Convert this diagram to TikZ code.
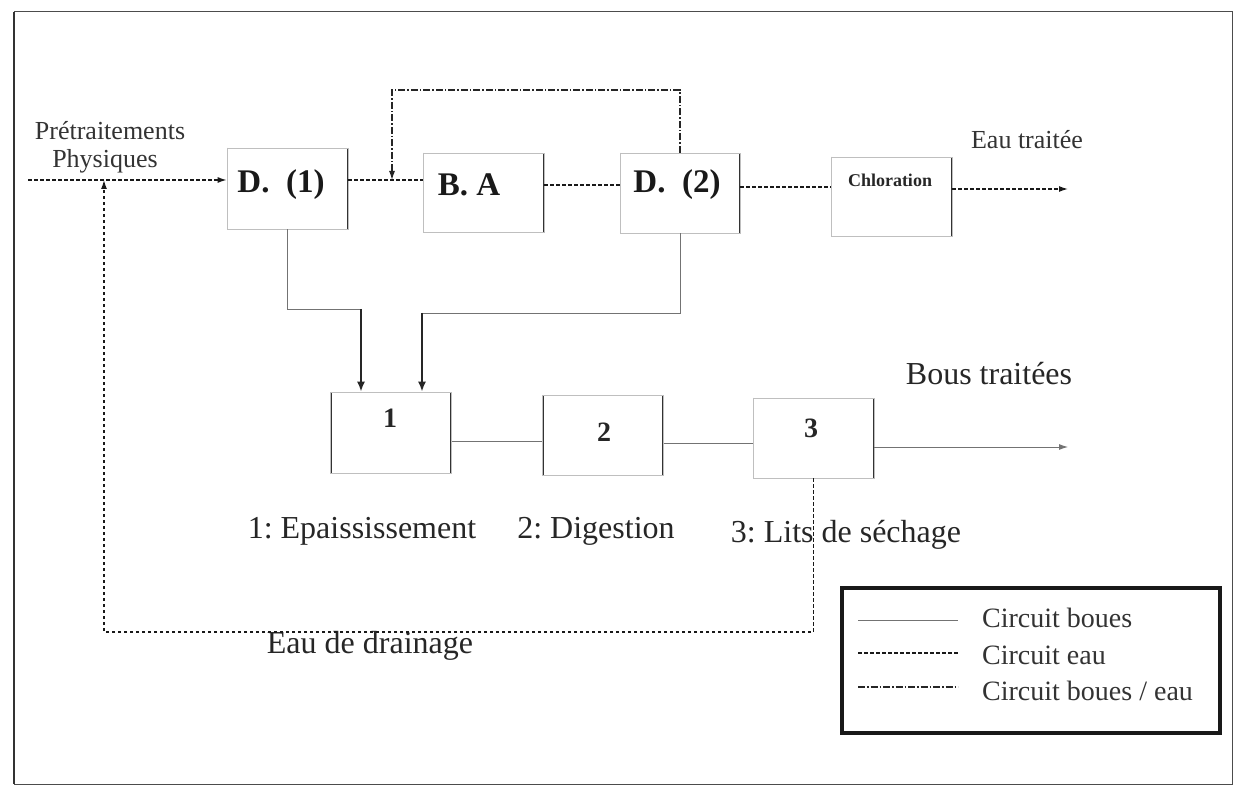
\documentclass[tikz,border=0pt]{standalone}
\usepackage{fontspec}
\setmainfont{Liberation Serif}
\usetikzlibrary{arrows.meta,calc}
\frenchspacing
\tikzset{
  procbox/.style={minimum width=121pt, minimum height=80pt, inner sep=0pt, draw=black!25, line width=0.7pt,
    path picture={\draw[black!80,line width=2.6pt]
      (path picture bounding box.north west) -- (path picture bounding box.south west)
      (path picture bounding box.north east) -- (path picture bounding box.south east);}},
  eau/.style={draw=black!90, line width=1.3pt, dash pattern=on 3.5pt off 2.5pt},
  boue/.style={draw=black!55, line width=0.9pt},
  bouefort/.style={draw=black!85, line width=1.8pt, -{Latex[length=10pt,width=8pt]}},
  mixte/.style={draw=black!85, line width=1.2pt, dash pattern=on 7pt off 2pt on 1.5pt off 2pt},
  tip/.style={-{Latex[length=9pt,width=6pt]}},
  lab/.style={font=\fontsize{32}{36}\selectfont, inner sep=0pt, text=black!85},
  small/.style={font=\fontsize{26}{30}\selectfont, inner sep=0pt, text=black!80},
  boxlab/.style={font=\bfseries\fontsize{33}{36}\selectfont, inner sep=0pt, text=black!90},
  numlab/.style={font=\bfseries\fontsize{28}{32}\selectfont, inner sep=0pt, text=black!85},
  leglab/.style={font=\fontsize{28}{32}\selectfont, inner sep=0pt, text=black!80, anchor=west},
}
\begin{document}
\begin{tikzpicture}[x=1pt,y=-1pt]
\useasboundingbox (0,0) rectangle (1243,794);
% outer frame
\draw[black!70,line width=1pt] (14,12) rectangle (1232,784);
\draw[black!80,line width=2pt] (14,12) -- (14,784);

% process boxes
\node[procbox,minimum height=81pt] (d1) at (287.5,188.5) {};
\node[procbox,minimum height=79pt] (ba) at (483.5,192.5) {};
\node[procbox,minimum width=120pt] (d2) at (680,193) {};
\node[procbox,minimum height=79pt] (chl) at (891.5,196.5) {};
\node[procbox,minimum height=81pt] (b1) at (391,432.5) {};
\node[procbox] (b2) at (603,435) {};
\node[procbox] (b3) at (813.5,438) {};

% box texts
\node[boxlab] (td1) at (281,185) {D.\ \ (1)};
\node[boxlab] (tba) at (469,185) {B. A};
\node[boxlab] (td2) at (677,185) {D.\ \ (2)};
\node[font=\bfseries\fontsize{18}{20}\selectfont, inner sep=0pt, text=black!85] (tchl) at (890,180) {Chloration};
\node[numlab] (t1) at (390,418) {1};
\node[numlab] (t2) at (604,432) {2};
\node[numlab] (t3) at (811,428) {3};

% other labels
\node[small] (pre1) at (110,131) {Prétraitements};
\node[small] (pre2) at (105,161) {Physiques};
\node[small] (etr) at (1027,140) {Eau traitée};
\node[lab] (btr) at (989,374) {Bous traitées};
\node[lab] (l1) at (362,531) {1: Epaississement};
\node[lab] (l2) at (596,531) {2: Digestion};
\node[lab] (l3) at (846,535) {3: Lits de séchage};
\node[lab] (edr) at (370,646) {Eau de drainage};

% helper coordinates
\coordinate (in) at (28,180);
\coordinate (w2) at (0,185);
\coordinate (w3) at (0,187);
\coordinate (out1) at (1068,189);
\coordinate (rtop) at (0,90);
\coordinate (rx) at (392,0);
\coordinate (s1) at (0,309);
\coordinate (a1) at (361,0);
\coordinate (s2) at (0,313);
\coordinate (a2) at (422,0);
\coordinate (h1) at (0,441);
\coordinate (h2) at (0,443);
\coordinate (out2) at (1068,447);
\coordinate (dr) at (104,632);

% water circuit
\draw[eau,tip] (in) -- (in -| d1.west);
\draw[eau] (d1.east |- in) -- (ba.west |- in);
\draw[eau] (ba.east |- w2) -- (d2.west |- w2);
\draw[eau] (d2.east |- w3) -- (chl.west |- w3);
\draw[eau,tip] (chl.east |- out1) -- (out1);

% mixed recycle
\draw[mixte,tip] (d2.north) -- (d2.north |- rtop) -- (rx |- rtop) -- (rx |- in);

% sludge circuit
\draw[boue] (d1.south) -- (d1.south |- s1) -- (a1 |- s1);
\draw[bouefort] (a1 |- s1) -- (a1 |- b1.north);
\draw[boue] (d2.south) -- (d2.south |- s2) -- (a2 |- s2);
\draw[bouefort] (a2 |- s2) -- (a2 |- b1.north);
\draw[boue] (b1.east |- h1) -- (b2.west |- h1);
\draw[boue] (b2.east |- h2) -- (b3.west |- h2);
\draw[boue,tip] (b3.east |- out2) -- (out2);

% drainage water
\draw[eau,tip] (b3.south) -- (b3.south |- dr) -- (dr) -- (dr |- in);

% legend
\node[draw=black!90, line width=4pt, minimum width=378pt, minimum height=145pt, inner sep=0pt] (leg) at (1031,660.5) {};
\coordinate (g1a) at (858,620); \coordinate (g1b) at (958,620);
\coordinate (g2a) at (858,653); \coordinate (g2b) at (958,653);
\coordinate (g3a) at (858,687); \coordinate (g3b) at (958,687);
\draw[boue] (g1a) -- (g1b);
\draw[eau] (g2a) -- (g2b);
\draw[mixte] (g3a) -- (g3b);
\node[leglab] (lg1) at (982,618) {Circuit boues};
\node[leglab] (lg2) at (982,655) {Circuit eau};
\node[leglab] (lg3) at (982,691) {Circuit boues / eau};
\end{tikzpicture}
\end{document}
